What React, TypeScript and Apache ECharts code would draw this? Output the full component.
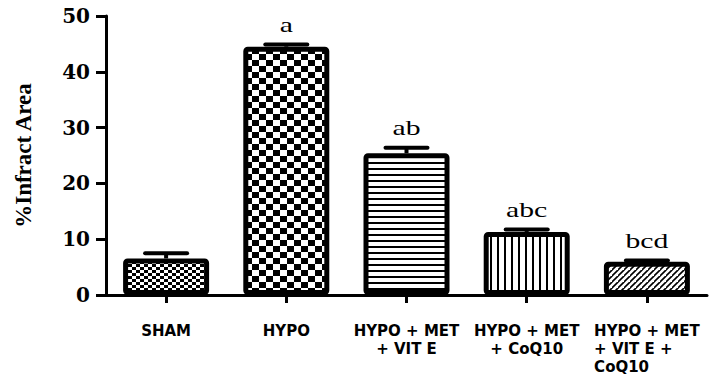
import React, { useEffect, useRef } from 'react';
import * as echarts from 'echarts';

// ---- data ----
const categories = [
  'SHAM',
  'HYPO',
  'HYPO + MET\n+ VIT E',
  'HYPO + MET\n+ CoQ10',
  'HYPO + MET\n+ VIT E +\nCoQ10',
];
const meanValues = [6.55, 44.5, 25.4, 11.3, 5.95];
const semValues = [0.95, 0.4, 1.0, 0.45, 0.25];
const sigLetters = ['', 'a', 'ab', 'abc', 'bcd'];
const yMin = 0;
const yMax = 50;
const yStep = 10;
const yTitle = '%Infract Area';

const SERIF = '"Liberation Serif", "Times New Roman", Times, serif';
const SANS = '"DejaVu Sans", sans-serif';

// ---- fill patterns ----
type Draw = (ctx: CanvasRenderingContext2D, w: number, h: number) => void;
function makeCanvas(w: number, h: number, draw: Draw) {
  const c = document.createElement('canvas');
  c.width = w;
  c.height = h;
  const ctx = c.getContext('2d') as CanvasRenderingContext2D;
  ctx.fillStyle = '#ffffff';
  ctx.fillRect(0, 0, w, h);
  ctx.fillStyle = '#000000';
  ctx.strokeStyle = '#000000';
  draw(ctx, w, h);
  return c;
}
function toPattern(c: HTMLCanvasElement) {
  return { image: c, repeat: 'repeat', imageWidth: c.width, imageHeight: c.height } as any;
}
function checker(cw: number, ch: number) {
  return toPattern(
    makeCanvas(cw * 2, ch * 2, (ctx) => {
      ctx.fillRect(0, 0, cw, ch);
      ctx.fillRect(cw, ch, cw, ch);
    })
  );
}
function hLines(period: number, thick: number) {
  return toPattern(makeCanvas(8, period, (ctx) => ctx.fillRect(0, 0, 8, thick)));
}
function vLines(period: number, thick: number) {
  return toPattern(makeCanvas(period, 8, (ctx) => ctx.fillRect(0, 0, thick, 8)));
}
function diagLines(period: number, thick: number) {
  return toPattern(
    makeCanvas(period, period, (ctx, w, h) => {
      ctx.lineWidth = thick;
      ctx.beginPath();
      ctx.moveTo(-1, h + 1);
      ctx.lineTo(w + 1, -1);
      ctx.moveTo(-1 - w, h + 1);
      ctx.lineTo(1, -1);
      ctx.moveTo(w - 1, 2 * h + 1);
      ctx.lineTo(2 * w + 1, h - 1);
      ctx.stroke();
    })
  );
}

export default function App() {
  const ref = useRef<HTMLDivElement>(null);

  useEffect(() => {
    if (!ref.current) return;
    const chart = echarts.init(ref.current, undefined, { renderer: 'svg' });

    const fills = [checker(4, 3), checker(7, 6), hLines(6, 2), vLines(7, 2), diagLines(6, 1.6)];

    const option: any = {
      animation: false,
      backgroundColor: '#ffffff',
      grid: {
        left: 106,
        right: 8,
        top: 16,
        bottom: 81,
        containLabel: false,
        outerBoundsMode: 'none',
      },
      xAxis: {
        type: 'category',
        data: categories,
        axisLine: { show: true, onZero: false, lineStyle: { color: '#000', width: 3 } },
        axisTick: { show: true, alignWithLabel: true, length: 8, lineStyle: { color: '#000', width: 3 } },
        axisLabel: {
          interval: 0,
          margin: 27,
          color: '#000',
          fontFamily: SANS,
          fontWeight: 'bold',
          fontSize: 15,
          lineHeight: 18,
          formatter: (v: string, i: number) =>
            i === categories.length - 1
              ? v
                  .split('\n')
                  .map((l) => `{l|${l}}`)
                  .join('\n')
              : v,
          rich: {
            l: {
              align: 'left',
              color: '#000',
              fontFamily: SANS,
              fontWeight: 'bold',
              fontSize: 15,
              lineHeight: 18,
            },
          },
        },
        splitLine: { show: false },
      },
      yAxis: {
        type: 'value',
        min: yMin,
        max: yMax,
        interval: yStep,
        name: yTitle,
        nameLocation: 'middle',
        nameRotate: 90,
        nameGap: 71,
        nameTextStyle: {
          color: '#000',
          fontFamily: SERIF,
          fontWeight: 'bold',
          fontSize: 23,
        },
        axisLine: { show: true, lineStyle: { color: '#000', width: 3 } },
        axisTick: { show: true, length: 10, lineStyle: { color: '#000', width: 3 } },
        axisLabel: {
          margin: 16,
          color: '#000',
          fontFamily: '"DejaVu Serif", serif',
          fontWeight: 'bold',
          fontSize: 20,
        },
        splitLine: { show: false },
      },
      series: [
        {
          type: 'bar',
          barWidth: 86,
          data: meanValues.map((v, i) => ({ value: v, itemStyle: { color: fills[i] } })),
          itemStyle: { borderColor: '#000', borderWidth: 5, borderRadius: 2 },
          emphasis: { disabled: true },
        },
        {
          type: 'custom',
          z: 3,
          data: meanValues.map((v, i) => [i, v, semValues[i]]),
          renderItem: (params: any, api: any) => {
            const idx = api.value(0);
            const m = api.value(1);
            const e = api.value(2);
            const base = api.coord([idx, m]);
            const top = api.coord([idx, m + e]);
            const x = top[0];
            const letter = sigLetters[params.dataIndex];
            return {
              type: 'group',
              children: [
                {
                  type: 'line',
                  shape: { x1: x, y1: base[1], x2: x, y2: top[1] },
                  style: { stroke: '#000', lineWidth: 4 },
                },
                {
                  type: 'line',
                  shape: { x1: x - 21, y1: top[1], x2: x + 21, y2: top[1] },
                  style: { stroke: '#000', lineWidth: 4, lineCap: 'round' },
                },
                {
                  type: 'text',
                  x: x,
                  y: top[1] - 9,
                  scaleX: 1.35,
                  style: {
                    text: letter,
                    fill: '#000',
                    fontFamily: SERIF,
                    fontSize: 22,
                    align: 'center',
                    verticalAlign: 'bottom',
                  },
                },
              ],
            };
          },
        },
      ],
    };

    chart.setOption(option);
    return () => chart.dispose();
  }, []);

  return (
    <div
      ref={ref}
      style={{ position: 'fixed', left: 0, top: 0, width: 715, height: 376, background: '#fff' }}
    />
  );
}
